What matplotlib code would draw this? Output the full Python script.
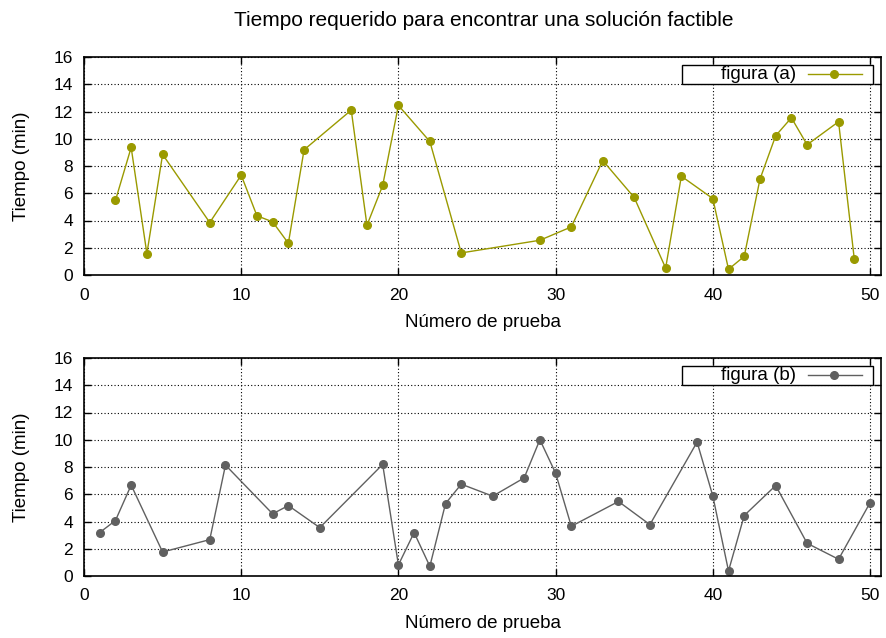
import matplotlib
matplotlib.use("Agg")
from matplotlib import pyplot as plt
from matplotlib.patches import Rectangle
from matplotlib.lines import Line2D

plt.rcParams['font.family'] = ['Liberation Sans', 'DejaVu Sans']
plt.rcParams['font.size'] = 12

# figura (a)
xa = [2, 3, 4, 5, 8, 10, 11, 12, 13, 14, 17, 18, 19, 20, 22, 24,
      29, 31, 33, 35, 37, 38, 40, 41, 42, 43, 44, 45, 46, 48, 49]
ya = [5.47, 9.36, 1.57, 8.85, 3.85, 7.33, 4.35, 3.9, 2.33, 9.19, 12.1, 3.65, 6.57, 12.45, 9.8, 1.62,
      2.55, 3.53, 8.4, 5.69, 0.51, 7.25, 5.61, 0.42, 1.37, 7.03, 10.22, 11.54, 9.56, 11.25, 1.18]

# figura (b)
xb = [1, 2, 3, 5, 8, 9, 12, 13, 15, 19, 20, 21, 22, 23, 24,
      26, 28, 29, 30, 31, 34, 36, 39, 40, 41, 42, 44, 46, 48, 50]
yb = [3.19, 4.07, 6.67, 1.76, 2.67, 8.14, 4.56, 5.17, 3.55, 8.19, 0.81, 3.19, 0.71, 5.32, 6.74,
      5.86, 7.2, 10.0, 7.55, 3.65, 5.47, 3.77, 9.83, 5.88, 0.37, 4.44, 6.64, 2.4, 1.23, 5.37]

series = [(xa, ya, 'figura (a)', '#9a9a00'),
          (xb, yb, 'figura (b)', '#606060')]

fig = plt.figure(figsize=(8.86, 6.38), dpi=100)
W, H = 886.0, 638.0
boxes = [(84, 57, 881, 275), (84, 358, 881, 576)]

for (x, y, label, color), (l, t, r, b) in zip(series, boxes):
    ax = fig.add_axes([l / W, 1 - b / H, (r - l) / W, (b - t) / H])
    ax.plot(x, y, '-o', color=color, lw=1.0, ms=5.5)
    ax.set_xlim(0, 50.7)
    ax.set_ylim(0, 16)
    ax.set_xticks(range(0, 51, 10))
    ax.set_yticks(range(0, 17, 2))
    ax.grid(True, color='black', linestyle=(0, (1, 2)), linewidth=0.8)
    ax.tick_params(direction='in', top=True, right=True, length=5, width=1, labelsize=12.5)
    ax.tick_params(axis='x', pad=9)
    ax.tick_params(axis='y', pad=8)
    for s in ax.spines.values():
        s.set_linewidth(1.2)
    ax.set_xlabel('Número de prueba', fontsize=13.5, labelpad=8)
    ax.set_ylabel('Tiempo (min)', fontsize=13.5, labelpad=17)

    # key box, gnuplot style: text on the left, sample on the right
    ax.add_patch(Rectangle((0.750, 0.877), 0.240, 0.088, transform=ax.transAxes,
                           facecolor='white', edgecolor='black', lw=1.0, zorder=5))
    ax.text(0.893, 0.921, label, transform=ax.transAxes, ha='right', va='center',
            fontsize=13.5, zorder=6)
    ax.add_line(Line2D([0.908, 0.976], [0.921, 0.921], transform=ax.transAxes,
                       color=color, lw=1.0, zorder=6))
    ax.add_line(Line2D([0.941], [0.921], transform=ax.transAxes, marker='o',
                       ms=5.5, color=color, zorder=6))

fig.text(484 / W, 1 - 20 / H, 'Tiempo requerido para encontrar una solución factible',
         ha='center', va='center', fontsize=15)

fig.savefig('out.png', dpi=100)
